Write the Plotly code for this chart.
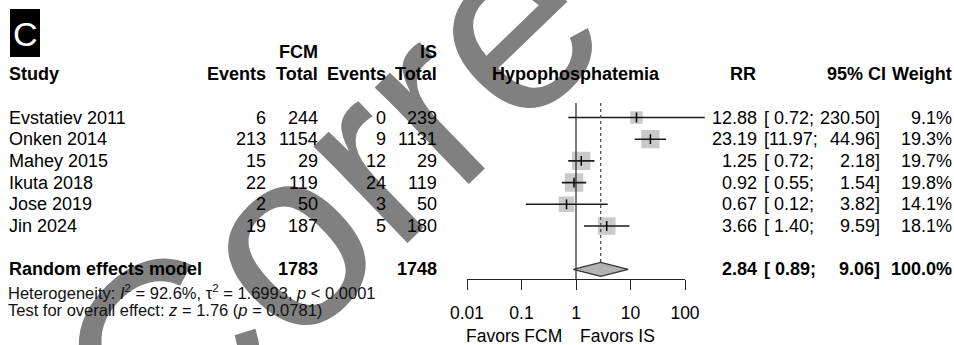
import math
import plotly.graph_objects as go

# ---------------- data ----------------
studies = ["Evstatiev 2011", "Onken 2014", "Mahey 2015", "Ikuta 2018", "Jose 2019", "Jin 2024"]
fcm_events = [6, 213, 15, 22, 2, 19]
fcm_total = [244, 1154, 29, 119, 50, 187]
is_events = [0, 9, 12, 24, 3, 5]
is_total = [239, 1131, 29, 119, 50, 180]
rr = [12.88, 23.19, 1.25, 0.92, 0.67, 3.66]
ci_lower = [0.72, 11.97, 0.72, 0.55, 0.12, 1.40]
ci_upper = [230.50, 44.96, 2.18, 1.54, 3.82, 9.59]
weights = [9.1, 19.3, 19.7, 19.8, 14.1, 18.1]

pooled_label = "Random effects model"
pooled_fcm_total = 1783
pooled_is_total = 1748
pooled_rr = 2.84
pooled_lower = 0.89
pooled_upper = 9.06
pooled_weight = 100.0

het_text = "Heterogeneity: <i>I</i><sup>2</sup> = 92.6%, \u03c4<sup>2</sup> = 1.6993, <i>p</i> < 0.0001"
test_text = "Test for overall effect: <i>z</i> = 1.76 (<i>p</i> = 0.0781)"

tick_vals = [0.01, 0.1, 1, 10, 100]
tick_text = ["0.01", "0.1", "1", "10", "100"]
label_left = "Favors FCM"
label_right = "Favors IS"
panel_letter = "C"
watermark = "Corre"

# ---------------- layout constants ----------------
W, H = 954, 345
ROW0, PITCH = 117.5, 21.7          # pixel y of first study row, row pitch
X1_PX, DEC_PX = 576.0, 54.5        # pixel x of RR=1, pixels per decade
AXIS_Y_PX = 279.0
TOP_LINE_PX = 103.0
FONT = "Liberation Sans, Arial, sans-serif"
FS = 18
SQUARE_GRAY = "#b3b3b3"


def row_of(py):
    return (py - ROW0) / PITCH


pooled_row = len(studies) + 1
diamond_half = 7.0 / PITCH

fig = go.Figure()

# squares (area proportional to weight)
fig.add_trace(go.Scatter(
    x=rr, y=list(range(len(studies))), mode="markers",
    marker=dict(symbol="square", size=[4.15 * math.sqrt(w) for w in weights],
                color=SQUARE_GRAY, line=dict(width=0)),
    hoverinfo="skip", showlegend=False))

# confidence interval lines
cx, cy = [], []
for i, (lo, hi) in enumerate(zip(ci_lower, ci_upper)):
    cx += [lo, hi, None]
    cy += [i, i, None]
fig.add_trace(go.Scatter(x=cx, y=cy, mode="lines",
                         line=dict(color="#1a1a1a", width=1.6),
                         hoverinfo="skip", showlegend=False))

# point estimate ticks
fig.add_trace(go.Scatter(
    x=rr, y=list(range(len(studies))), mode="markers",
    marker=dict(symbol="line-ns", size=7, line=dict(color="black", width=1.5)),
    hoverinfo="skip", showlegend=False))

# line of no effect
fig.add_trace(go.Scatter(x=[1, 1], y=[row_of(TOP_LINE_PX), row_of(AXIS_Y_PX)], mode="lines",
                         line=dict(color="#222222", width=1.2),
                         hoverinfo="skip", showlegend=False))
# pooled estimate dotted line
fig.add_trace(go.Scatter(x=[pooled_rr, pooled_rr],
                         y=[row_of(TOP_LINE_PX), pooled_row - diamond_half], mode="lines",
                         line=dict(color="#444444", width=1.2, dash="dot"),
                         hoverinfo="skip", showlegend=False))

# diamond
fig.add_trace(go.Scatter(
    x=[pooled_lower, pooled_rr, pooled_upper, pooled_rr, pooled_lower],
    y=[pooled_row, pooled_row - diamond_half, pooled_row, pooled_row + diamond_half, pooled_row],
    mode="lines", fill="toself", fillcolor=SQUARE_GRAY,
    line=dict(color="#333333", width=1.2),
    hoverinfo="skip", showlegend=False))

# dummy trace for the visible axis
fig.add_trace(go.Scatter(x=tick_vals, y=[0.5] * len(tick_vals), xaxis="x2", yaxis="y2",
                         mode="markers", marker=dict(size=1, opacity=0),
                         hoverinfo="skip", showlegend=False))

# ---------------- text ----------------
annotations = []

# watermark (drawn first, under the table text)
annotations.append(dict(text=watermark, x=328 / W, y=1 - 196 / H, xref="paper", yref="paper",
                        xanchor="center", yanchor="middle", textangle=-44, showarrow=False,
                        font=dict(family=FONT, size=255, color="#808080")))


def ann(text, xpx, row, xanchor, size=FS, bold=False, color="black"):
    if bold:
        text = "<b>" + text + "</b>"
    annotations.append(dict(text=text, x=xpx / W, xref="paper", y=row, yref="y",
                            xanchor=xanchor, yanchor="middle", showarrow=False,
                            borderpad=0, font=dict(family=FONT, size=size, color=color)))


# headers
hr1, hr2 = row_of(52), row_of(74)
ann("FCM", 319, hr1, "right", bold=True)
ann("IS", 438, hr1, "right", bold=True)
ann("Study", 8, hr2, "left", bold=True)
ann("Events", 267, hr2, "right", bold=True)
ann("Total", 319, hr2, "right", bold=True)
ann("Events", 387, hr2, "right", bold=True)
ann("Total", 438, hr2, "right", bold=True)
ann("Hypophosphatemia", X1_PX, hr2, "center", bold=True)
ann("RR", 757, hr2, "right", bold=True)
ann("95% CI", 887, hr2, "right", bold=True)
ann("Weight", 953, hr2, "right", bold=True)

# study rows
for i, s in enumerate(studies):
    ann(s, 8, i, "left")
    ann(str(fcm_events[i]), 267, i, "right")
    ann(str(fcm_total[i]), 319, i, "right")
    ann(str(is_events[i]), 387, i, "right")
    ann(str(is_total[i]), 438, i, "right")
    ann(f"{rr[i]:.2f}", 758, i, "right")
    ann(f"[{ci_lower[i]:5.2f};", 763, i, "left")
    ann(f"{ci_upper[i]:.2f}]", 881, i, "right")
    ann(f"{weights[i]:.1f}%", 953, i, "right")

# pooled row
ann(pooled_label, 8, pooled_row, "left", bold=True)
ann(str(pooled_fcm_total), 319, pooled_row, "right", bold=True)
ann(str(pooled_is_total), 438, pooled_row, "right", bold=True)
ann(f"{pooled_rr:.2f}", 758, pooled_row, "right", bold=True)
ann(f"[{pooled_lower:5.2f};", 763, pooled_row, "left", bold=True)
ann(f"{pooled_upper:.2f}]", 881, pooled_row, "right", bold=True)
ann(f"{pooled_weight:.1f}%", 953, pooled_row, "right", bold=True)

ann(het_text, 7, row_of(291.5), "left", size=16.5, color="#111111")
ann(test_text, 7, row_of(310), "left", size=16.5, color="#111111")

ann(label_left, 563, row_of(336), "right", size=17.5)
ann(label_right, 579, row_of(336), "left", size=17.5)

# panel letter
annotations.append(dict(text=panel_letter, x=25 / W, y=1 - 34 / H, xref="paper", yref="paper",
                        xanchor="center", yanchor="middle", showarrow=False,
                        font=dict(family=FONT, size=34, color="white")))

fig.update_layout(
    template="none",
    autosize=False,
    width=W, height=H, margin=dict(l=0, r=0, t=0, b=0, pad=0, autoexpand=False),
    paper_bgcolor="white", plot_bgcolor="rgba(0,0,0,0)",
    showlegend=False,
    xaxis=dict(type="log", range=[-2.3, 2.6], domain=[(X1_PX - 2.3 * DEC_PX) / W, (X1_PX + 2.6 * DEC_PX) / W],
               visible=False, fixedrange=True, automargin=False),
    yaxis=dict(range=[row_of(H), row_of(0)], domain=[0, 1], visible=False, fixedrange=True,
               automargin=False),
    xaxis2=dict(type="log", range=[-2, 2], domain=[(X1_PX - 2 * DEC_PX) / W, (X1_PX + 2 * DEC_PX) / W],
                anchor="y2", showline=True, linecolor="#222222", linewidth=1.2,
                ticks="outside", ticklen=10, tickwidth=1.2, tickcolor="#222222",
                tickvals=tick_vals, ticktext=tick_text, showgrid=False, zeroline=False,
                ticklabelstandoff=8, automargin=False,
                tickfont=dict(family=FONT, size=17.5, color="black"), fixedrange=True),
    yaxis2=dict(domain=[1 - AXIS_Y_PX / H, 1 - (AXIS_Y_PX - 4) / H], range=[0, 1],
                visible=False, fixedrange=True, automargin=False),
    shapes=[dict(type="rect", xref="paper", yref="paper", x0=10 / W, x1=40 / W,
                 y0=1 - 57 / H, y1=1 - 9 / H, fillcolor="black", line=dict(width=0))],
    annotations=annotations,
)

fig.write_html("out.html", config={"responsive": False, "displayModeBar": False},
               post_script="document.body.style.margin='0';document.body.style.overflow='hidden';")
